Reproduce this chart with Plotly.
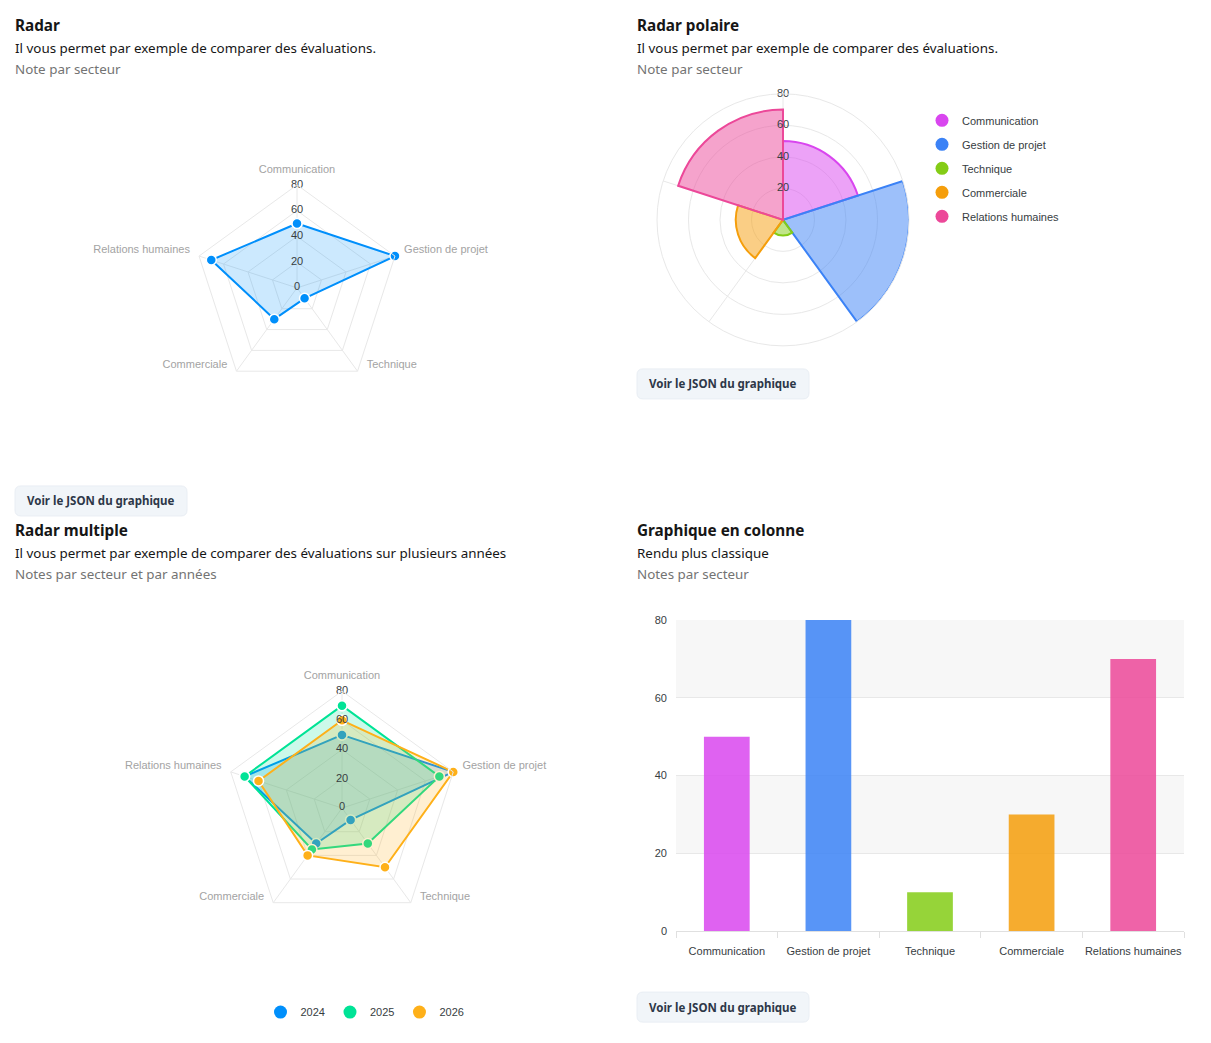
import plotly.graph_objects as go

# page is 1211x1043; the body has an 8px margin
PAGE_W, PAGE_H = 1211, 1043
OFF = 8
W, H = PAGE_W - 2 * OFF, PAGE_H - 2 * OFF
# measured vertical correction of the photographed page (image_y = SY * design_y + TY)
SY, TY = 0.988, 6.3

# ---------------- data ----------------
categories = ["Communication", "Gestion de projet", "Technique", "Commerciale", "Relations humaines"]
notes = [50, 80, 10, 30, 70]
years = ["2024", "2025", "2026"]
notes_2024 = [50, 80, 10, 30, 70]
notes_2025 = [70, 70, 30, 35, 70]
notes_2026 = [60, 80, 50, 40, 60]
radial_ticks = [0, 20, 40, 60, 80]
polar_ticks = [20, 40, 60, 80]

# ---------------- styles ----------------
radar_color = "#008FFB"
year_colors = ["#008FFB", "#00E396", "#FEB019"]
sector_colors = ["#D946EF", "#3B82F6", "#84CC16", "#F59E0B", "#EC4899"]
label_positions = ["top center", "top right", "top right", "top left", "top left"]
label_pads = [13, 0, 0, 0, 0]   # invisible marker sizes that push the labels outward
GRID = "#e8e8e8"
CAT_FONT = dict(family="Liberation Sans, Arial, sans-serif", size=11, color="#a3a3a3")
TICK_FONT = dict(family="Liberation Sans, Arial, sans-serif", size=11, color="#373d3f")
TITLE_FAMILY = "Noto Sans, Open Sans, sans-serif"
R_RANGE = [-0.01, 80]
CENTER_EPS = 0.3   # the centre label is not drawn at exactly r = 0


def px(x):
    return (x - OFF) / W


def py(y):
    yd = (y - TY) / SY
    return 1 - (yd - OFF) / H


def rgba(hex_color, a):
    h = hex_color.lstrip("#")
    r, g, b = int(h[0:2], 16), int(h[2:4], 16), int(h[4:6], 16)
    return f"rgba({r},{g},{b},{a})"


def closed(seq):
    return list(seq) + [seq[0]]


def label_text(cat, pos):
    if pos.endswith("right"):
        return "\u00a0\u00a0\u00a0" + cat
    if pos.endswith("left"):
        return cat + "\u00a0\u00a0\u00a0"
    return cat


def radar_labels(subplot):
    # category names placed just outside the outer vertices
    cat_trace = go.Scatterpolar(
        r=[radial_ticks[-1]] * len(categories), theta=categories, subplot=subplot,
        mode="markers+text", text=[label_text(c, p) for c, p in zip(categories, label_positions)],
        textposition=label_positions,
        marker=dict(size=label_pads, color="rgba(0,0,0,0)", line=dict(width=0)),
        textfont=CAT_FONT, cliponaxis=False, showlegend=False, hoverinfo="skip",
    )
    tick_trace = go.Scatterpolar(
        r=[max(v, CENTER_EPS) for v in radial_ticks], theta=[categories[0]] * len(radial_ticks),
        subplot=subplot, mode="text", text=[str(v) for v in radial_ticks], textfont=TICK_FONT,
        cliponaxis=False, showlegend=False, hoverinfo="skip",
    )
    return [cat_trace, tick_trace]


fig = go.Figure()

# ---------------- Radar (top-left) ----------------
fig.add_trace(go.Scatterpolar(
    r=closed(notes), theta=closed(categories), subplot="polar",
    mode="lines+markers", fill="toself", fillcolor=rgba(radar_color, 0.2),
    line=dict(color=radar_color, width=2),
    marker=dict(size=10, color=radar_color, line=dict(color="white", width=1.5)),
    cliponaxis=False, showlegend=False, name="Note",
))
for tr in radar_labels("polar"):
    fig.add_trace(tr)

# ---------------- Radar polaire (top-right) ----------------
n = len(categories)
step = 360 / n
for i, (cat, val, col) in enumerate(zip(categories, notes, sector_colors)):
    fig.add_trace(go.Barpolar(
        r=[val], theta=[i * step + step / 2], width=[step], subplot="polar2",
        marker=dict(color=rgba(col, 0.5), line=dict(color=col, width=2)),
        name=cat, showlegend=False, hovertext=[cat], hoverinfo="text+r",
    ))
for cat, col in zip(categories, sector_colors):
    fig.add_trace(go.Scatterpolar(
        r=[None], theta=[None], subplot="polar2", mode="markers",
        marker=dict(size=13, color=col), name=cat, legend="legend", legendgroup=cat,
    ))
fig.add_trace(go.Scatterpolar(
    r=polar_ticks, theta=[0] * len(polar_ticks), subplot="polar2",
    mode="text", text=[str(v) for v in polar_ticks], textfont=TICK_FONT,
    cliponaxis=False, showlegend=False, hoverinfo="skip",
))

# ---------------- Radar multiple (bottom-left) ----------------
for yr, vals, col in zip(years, [notes_2024, notes_2025, notes_2026], year_colors):
    fig.add_trace(go.Scatterpolar(
        r=closed(vals), theta=closed(categories), subplot="polar3",
        mode="lines+markers", fill="toself", fillcolor=rgba(col, 0.2),
        line=dict(color=col, width=2),
        marker=dict(size=10, color=col, line=dict(color="white", width=1.5)),
        cliponaxis=False, name=yr, showlegend=False,
    ))
for yr, col in zip(years, year_colors):
    fig.add_trace(go.Scatterpolar(
        r=[None], theta=[None], subplot="polar3", mode="markers",
        marker=dict(size=13, color=col), name=yr, legend="legend2",
    ))
for tr in radar_labels("polar3"):
    fig.add_trace(tr)

# ---------------- Graphique en colonne (bottom-right) ----------------
fig.add_trace(go.Bar(
    x=categories, y=notes, xaxis="x", yaxis="y",
    marker=dict(color=[rgba(c, 0.85) for c in sector_colors], line=dict(width=0)),
    width=0.45, showlegend=False,
))


def radar_polar(domain_x, domain_y):
    return dict(
        domain=dict(x=domain_x, y=domain_y),
        gridshape="linear", bgcolor="white",
        radialaxis=dict(range=R_RANGE, tickvals=radial_ticks, showticklabels=False,
                        showline=False, ticks="", gridcolor=GRID, gridwidth=1),
        angularaxis=dict(rotation=90, direction="clockwise", gridcolor=GRID,
                         linecolor=GRID, showline=True, ticks="", showticklabels=False),
    )


layout = dict(
    width=W, height=H, margin=dict(l=0, r=0, t=0, b=0),
    paper_bgcolor="white", plot_bgcolor="white",
    font=TICK_FONT,
    polar=radar_polar([px(194), px(400)], [py(391), py(185)]),
    polar2=dict(
        domain=dict(x=[px(657), px(909)], y=[py(346), py(94)]),
        bgcolor="white", barmode="overlay",
        radialaxis=dict(range=[0, 80], tickvals=polar_ticks, showticklabels=False,
                        showline=False, ticks="", gridcolor=GRID, angle=90),
        angularaxis=dict(rotation=90, direction="clockwise", tickvals=[0, 72, 144, 216, 288],
                         showticklabels=False, ticks="", gridcolor=GRID,
                         linecolor=GRID, showline=True),
    ),
    polar3=radar_polar([px(225), px(459)], [py(925), py(691)]),
    xaxis=dict(domain=[px(676), px(1184)], showline=True, linecolor="#e0e0e0",
               ticks="outside", tickson="boundaries", ticklen=6, tickcolor="#e0e0e0",
               showgrid=False, tickfont=TICK_FONT, tickangle=0, ticklabelstandoff=10,
               anchor="y"),
    yaxis=dict(domain=[py(931), py(620)], range=[0, 80], tickvals=radial_ticks,
               showline=False, ticks="", gridcolor=GRID, zeroline=False,
               tickfont=TICK_FONT, ticklabelstandoff=8, anchor="x"),
    legend=dict(x=px(922), y=py(106), xanchor="left", yanchor="top",
                font=TICK_FONT, tracegroupgap=5, bgcolor="rgba(0,0,0,0)",
                itemclick=False, itemdoubleclick=False),
    legend2=dict(x=px(365), y=py(1012), xanchor="center", yanchor="middle",
                 orientation="h", font=TICK_FONT, bgcolor="rgba(0,0,0,0)",
                 itemclick=False, itemdoubleclick=False),
)
fig.update_layout(**layout)

# alternating bands in the column chart
for y0, y1 in [(60, 80), (20, 40)]:
    fig.add_shape(type="rect", xref="x domain", yref="y", x0=0, x1=1, y0=y0, y1=y1,
                  fillcolor="#f7f7f7", line=dict(width=0), layer="below")

# ---------------- headings ----------------
headings = [
    (15, "Radar", "Il vous permet par exemple de comparer des évaluations.", "Note par secteur", 25),
    (637, "Radar polaire", "Il vous permet par exemple de comparer des évaluations.", "Note par secteur", 25),
    (15, "Radar multiple", "Il vous permet par exemple de comparer des évaluations sur plusieurs années",
     "Notes par secteur et par années", 530),
    (637, "Graphique en colonne", "Rendu plus classique", "Notes par secteur", 530),
]
for x, t, s, n_, y in headings:
    fig.add_annotation(x=px(x - 2), y=py(y), xref="paper", yref="paper", xanchor="left", yanchor="middle",
                       text=f"<b>{t}</b>", showarrow=False,
                       font=dict(family=TITLE_FAMILY, size=15.3, color="#161616"))
    fig.add_annotation(x=px(x - 2), y=py(y + 23), xref="paper", yref="paper", xanchor="left", yanchor="middle",
                       text=s, showarrow=False,
                       font=dict(family=TITLE_FAMILY, size=13.4, color="#161616"))
    fig.add_annotation(x=px(x - 2), y=py(y + 44), xref="paper", yref="paper", xanchor="left", yanchor="middle",
                       text=n_, showarrow=False,
                       font=dict(family=TITLE_FAMILY, size=13.4, color="#737373"))


# ---------------- buttons ----------------
def rounded_rect(x0, y0, x1, y1, r):
    return (f"M {px(x0 + r)},{py(y0)} L {px(x1 - r)},{py(y0)} "
            f"Q {px(x1)},{py(y0)} {px(x1)},{py(y0 + r)} L {px(x1)},{py(y1 - r)} "
            f"Q {px(x1)},{py(y1)} {px(x1 - r)},{py(y1)} L {px(x0 + r)},{py(y1)} "
            f"Q {px(x0)},{py(y1)} {px(x0)},{py(y1 - r)} L {px(x0)},{py(y0 + r)} "
            f"Q {px(x0)},{py(y0)} {px(x0 + r)},{py(y0)} Z")


for bx, by in [(15, 486), (637, 369), (637, 992)]:
    fig.add_shape(type="path", xref="paper", yref="paper",
                  path=rounded_rect(bx, by, bx + 172, by + 30, 6),
                  fillcolor="#f1f5f9", line=dict(color="#e9eef4", width=1), layer="below")
    fig.add_annotation(x=px(bx + 86), y=py(by + 15), xref="paper", yref="paper",
                       xanchor="center", yanchor="middle", showarrow=False,
                       text="<b>Voir le JSON du graphique</b>",
                       font=dict(family=TITLE_FAMILY, size=11.5, color="#2d3748"))

fig.write_html("out.html")
